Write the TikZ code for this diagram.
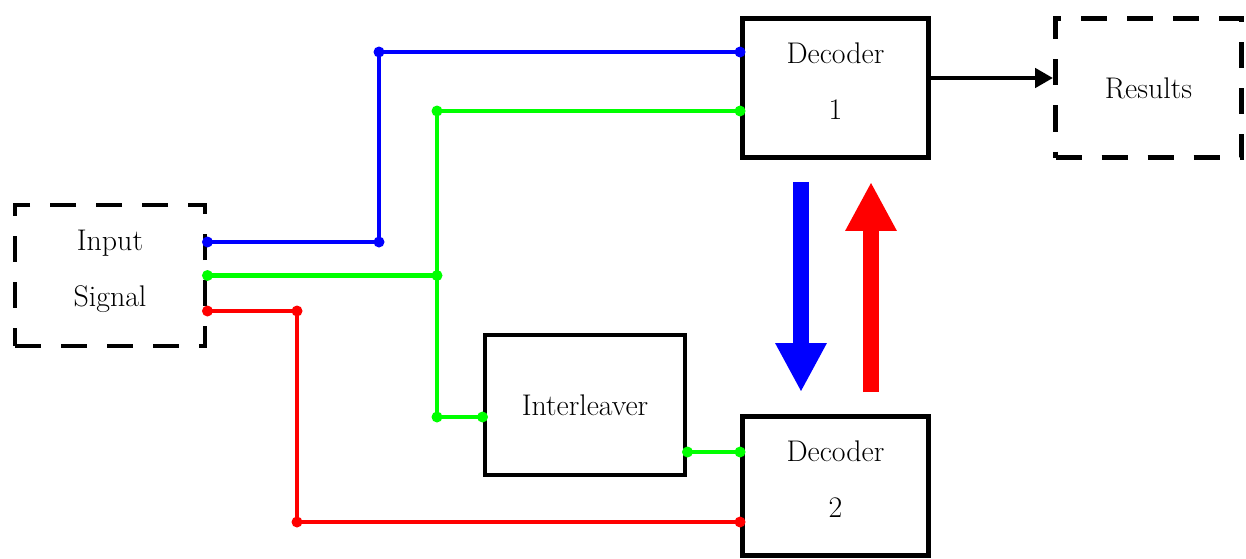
\documentclass[tikz,border=0pt]{standalone}
\usetikzlibrary{arrows.meta,positioning,calc}
\definecolor{wireBlue}{HTML}{0000FF}
\definecolor{wireGreen}{HTML}{00FF00}
\definecolor{wireRed}{HTML}{FF0000}
\definecolor{inkBlack}{HTML}{000000}

\begin{document}
\begin{tikzpicture}[
  font=\fontsize{17}{32}\selectfont,
  box/.style={
    rectangle, draw=inkBlack, line width=2.8pt, align=center,
    inner sep=0pt, minimum width=3.72cm, minimum height=2.78cm},
  block/.style={box},
  dashbox/.style={box, dash pattern=on 0.52cm off 0.4cm},
  twoline/.style={text depth=8pt},
  wire/.style={line width=2.8pt},
  feed/.style={-{Triangle[length=0.36cm,width=0.38cm]}, line width=2.8pt,
               draw=inkBlack},
  fat/.style={-{Triangle[length=0.98cm,width=0.96cm]}, line width=0.32cm},
]
\useasboundingbox (0,0) rectangle (24.92,11.16);

% =============================== nodes =====================================
\node[dashbox, twoline, minimum width=3.8cm, minimum height=2.82cm]
                 at (2.20,5.65)  (input)   {Input\\Signal};
\node[block, twoline]  at (16.71,9.40) (dec1)  {Decoder\\1};
\node[dashbox]         at (22.97,9.40) (res)   {Results};
\node[block, minimum width=4.0cm, minimum height=2.8cm]
                       at (11.70,3.06) (inter) {Interleaver};
\node[block, twoline]  at (16.71,1.44) (dec2)  {Decoder\\2};

% bend columns of the wires
\coordinate (rCol) at (5.94,0);
\coordinate (bCol) at (7.58,0);
\coordinate (gCol) at (8.74,0);

% =============================== wires =====================================
% blue: input -> decoder 1 (top)
\coordinate (bIn)  at ($(input.east)+(0,0.67)$);
\coordinate (bOut) at ($(dec1.west)+(0,0.72)$);
\draw[wire, wireBlue] (bIn) -- (bIn -| bCol) -- (bOut -| bCol) -- (bOut);
\foreach \p in {{bIn},{bIn -| bCol},{bOut -| bCol},{bOut}}
  \fill[wireBlue] (\p) circle (0.11cm);

% green: input -> decoder 1 and interleaver
\coordinate (gIn)  at (input.east);
\coordinate (gTop) at ($(dec1.west)+(0,-0.46)$);
\coordinate (gBot) at ($(inter.west)+(0,-0.24)$);
\draw[wire, wireGreen] (gIn) -- (gIn -| gCol);
\draw[wire, wireGreen] (gTop) -- (gTop -| gCol) -- (gBot -| gCol) -- (gBot);
\foreach \p in {{gIn},{gIn -| gCol},{gTop -| gCol},{gTop},{gBot -| gCol},{gBot}}
  \fill[wireGreen] (\p) circle (0.11cm);

% green: interleaver -> decoder 2
\coordinate (iOut) at ($(inter.east)+(0,-0.94)$);
\coordinate (iIn)  at ($(dec2.west)+(0,0.68)$);
\draw[wire, wireGreen] (iOut) -- (iIn);
\foreach \p in {iOut, iIn}
  \fill[wireGreen] (\p) circle (0.11cm);

% red: input -> decoder 2 (bottom)
\coordinate (rIn)  at ($(input.east)+(0,-0.71)$);
\coordinate (rOut) at ($(dec2.west)+(0,-0.72)$);
\draw[wire, wireRed] (rIn) -- (rIn -| rCol) -- (rOut -| rCol) -- (rOut);
\foreach \p in {{rIn},{rIn -| rCol},{rOut -| rCol},{rOut}}
  \fill[wireRed] (\p) circle (0.11cm);

% decoder 1 -> results
\draw[feed] ($(dec1.east)+(0,0.2)$) -- ($(res.west)+(0,0.2)$);

% exchange between the two decoders
\draw[fat, wireBlue] ($(dec1.south)+(-0.69,-0.44)$) -- ($(dec2.north)+(-0.69,0.44)$);
\draw[fat, wireRed]  ($(dec2.north)+(0.71,0.44)$) -- ($(dec1.south)+(0.71,-0.44)$);

\end{tikzpicture}
\end{document}
